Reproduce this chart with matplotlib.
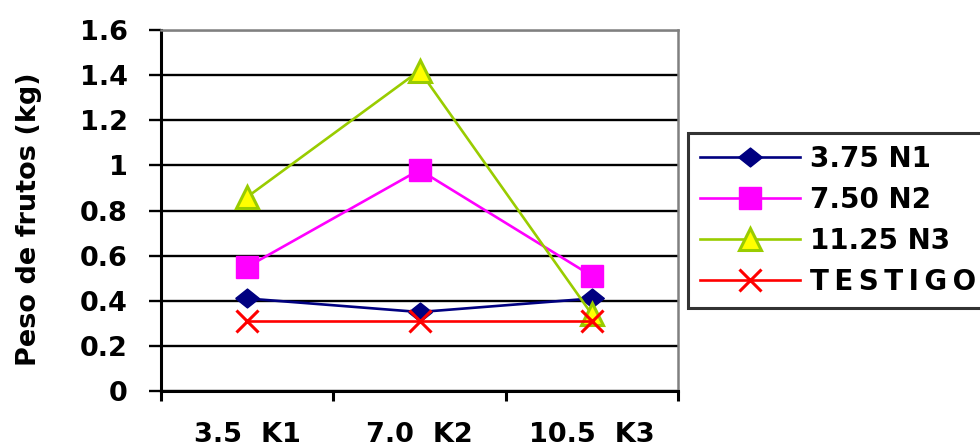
import matplotlib.pyplot as plt
from matplotlib.ticker import FixedLocator

plt.rcParams['font.family'] = ['DejaVu Sans']
plt.rcParams['font.weight'] = 'bold'

# Potassium levels on the x axis, nitrogen doses as series
categories = ['3.5  K1', '7.0  K2', '10.5  K3']
n1 = [0.41, 0.35, 0.41]
n2 = [0.55, 0.98, 0.51]
n3 = [0.86, 1.42, 0.34]
testigo = [0.31, 0.31, 0.31]
series_names = ['3.75 N1', '7.50 N2', '11.25 N3',
                '\u2009'.join('TESTIGO')]
y_ticks = [0, 0.2, 0.4, 0.6, 0.8, 1, 1.2, 1.4, 1.6]
y_tick_labels = ['0', '0.2', '0.4', '0.6', '0.8', '1', '1.2', '1.4', '1.6']

W, H = 980, 448
fig = plt.figure(figsize=(W / 100, H / 100), dpi=100)
ax = fig.add_axes([161 / W, 1 - 391 / H, 517 / W, 361 / H])

# slightly flattened diamond
diamond = [(-1, 0), (0, 0.8), (1, 0), (0, -0.8), (-1, 0)]

x = range(len(categories))
ax.plot(x, n1, color='#000080', lw=1.9, marker=diamond, ms=17,
        mfc='#000080', mec='#000080', label=series_names[0], zorder=4)
ax.plot(x, n2, color='#FF00FF', lw=1.9, marker='s', ms=16,
        mfc='#FF00FF', mec='#FF00FF', label=series_names[1], zorder=4)
ax.plot(x, n3, color='#99CC00', lw=1.9, marker='^', ms=15.5,
        mfc='#FFFF00', mec='#99CC00', mew=2.2, label=series_names[2], zorder=4)
ax.plot(x, testigo, color='#FF0000', lw=1.9, marker='x', ms=16,
        mew=2.2, label=series_names[3], zorder=4)

ax.set_xlim(-0.5, 2.5)
ax.set_ylim(0, 1.6)
ax.set_yticks(y_ticks)
ax.set_yticklabels(y_tick_labels, fontsize=19.5)
ax.yaxis.grid(True, color='black', lw=1.7)
ax.set_axisbelow(True)

ax.set_xticks(list(x))
ax.set_xticklabels(categories, fontsize=19.5)
ax.xaxis.set_minor_locator(FixedLocator([-0.5, 0.5, 1.5, 2.5]))
ax.tick_params(axis='x', which='major', length=0, pad=22)
ax.tick_params(axis='x', which='minor', length=7, width=2.2, direction='out')
ax.tick_params(axis='y', length=9, width=1.7, direction='out', pad=15)

for side in ('left', 'bottom'):
    ax.spines[side].set_linewidth(2.2)
    ax.spines[side].set_color('black')
for side in ('top', 'right'):
    ax.spines[side].set_linewidth(1.8)
    ax.spines[side].set_color('#808080')

fig.text(29 / W, 1 - 219 / H, 'Peso de frutos (kg)', rotation=90,
         ha='center', va='center', fontsize=19.5)

leg = fig.legend(loc='upper left', bbox_to_anchor=(688 / W, 1 - 133 / H),
                 fontsize=20, frameon=True, fancybox=False, edgecolor='black',
                 handlelength=3.6, borderpad=0.42, labelspacing=0.47,
                 handletextpad=0.36, borderaxespad=0)
leg.get_frame().set_linewidth(2.2)

fig.savefig('out.png', dpi=100)
